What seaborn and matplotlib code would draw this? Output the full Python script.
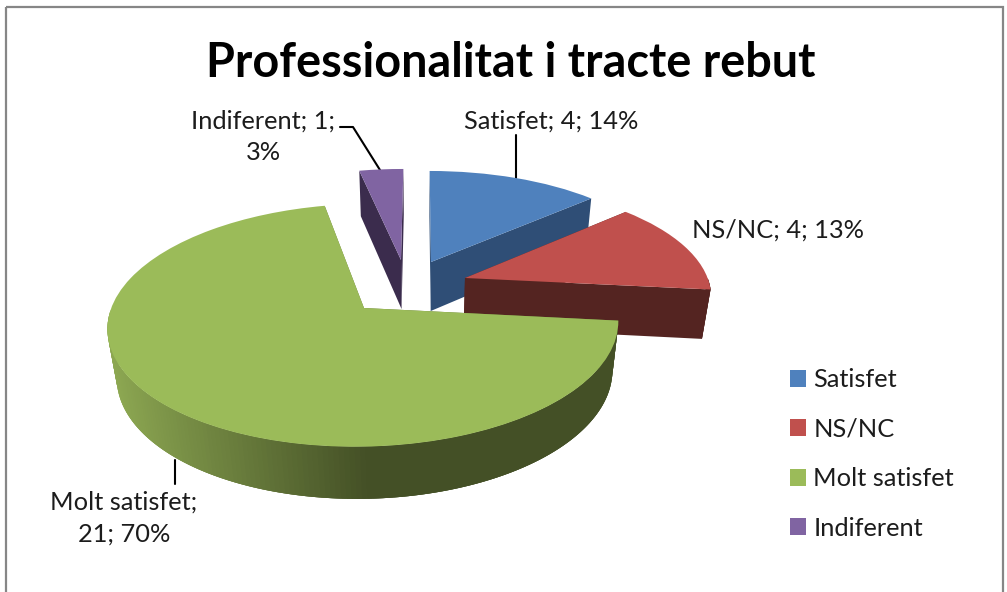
import numpy as np
import matplotlib
matplotlib.use("Agg")
import matplotlib.pyplot as plt
from matplotlib.patches import Patch, Rectangle
from matplotlib.transforms import Transform
import seaborn as sns

# ---- data ----
categories = ["Satisfet", "NS/NC", "Molt satisfet", "Indiferent"]
values = [4, 4, 21, 1]
percents = [14, 13, 70, 3]
title = "Professionalitat i tracte rebut"

# ---- styles ----
top_colors = ["#4F81BD", "#C0504D", "#9BBB59", "#8064A2"]
wall_colors = ["#2F4E76", "#542421", None, "#3B2C4D"]
green_wall = sns.blend_palette(["#8DA852", "#445026"], 256)

# ---- layout (pixels) ----
W, H_PX = 1007, 592
apex = [(431, 262), (465, 278), (364, 308), (401, 260)]
scale_x = [0.935, 0.955, 0.995, 0.95]
scale_y = [0.884, 0.92, 1.012, 0.884]
order = [3, 0, 1, 2]  # back to front
R, A, K, M, DEPTH, VX = 254, 117.6, 0.142, 0.03, 50.5, 420

sns.set_theme(style="white")
plt.rcParams["font.family"] = ["Lato", "DejaVu Sans"]

fig = plt.figure(figsize=(W / 100, H_PX / 100), dpi=100, facecolor="white")
ax = fig.add_axes([0, 0, 1, 1])


def project(x, y, z, i):
    x, y, z = np.asarray(x, float), np.asarray(y, float), np.asarray(z, float)
    d = 1 + K * y + M * z
    ax0, ay0 = apex[i]
    px = ax0 + R * scale_x[i] * x / d + (VX - ax0) * (1 - 1 / d)
    py = ay0 - A * scale_y[i] * y / d + DEPTH * z / d
    return px, py


class TopFace(Transform):
    input_dims = output_dims = 2
    is_separable = False
    has_inverse = False

    def __init__(self, i):
        super().__init__()
        self.i = i

    def transform_non_affine(self, values):
        v = np.asarray(values, float)
        px, py = project(v[:, 0], v[:, 1], 0 * v[:, 0], self.i)
        return np.column_stack([px, py])


wedges, _ = ax.pie(values, colors=top_colors, startangle=90, counterclock=False,
                   wedgeprops=dict(linewidth=0))
ax.set_aspect("auto")
ax.set_xlim(0, W)
ax.set_ylim(H_PX, 0)
ax.axis("off")

for rank, i in enumerate(order):
    w = wedges[i]
    base = 10 * (rank + 1)
    w.set_transform(TopFace(i) + ax.transData)
    w.set_clip_on(False)
    w.set_zorder(base + 5)
    t1, t2 = w.theta1, w.theta2
    # radial cut walls
    for th in (t1, t2):
        c, s = np.cos(np.radians(th)), np.sin(np.radians(th))
        xs = [0, c, c, 0]
        ys = [0, s, s, 0]
        zs = [0, 0, 1, 1]
        px, py = project(xs, ys, zs, i)
        col = wall_colors[i] if wall_colors[i] else green_wall[128]
        ax.fill(px, py, color=col, lw=0, zorder=base)
    # outer rim wall, only the part facing the viewer; strips overlap to hide seams
    ts = np.radians(np.linspace(t1, t2, 241))
    for a, b in zip(ts[:-3], ts[3:]):
        if np.sin(a) > 0.001 or np.sin(b) > 0.001:
            continue
        xs = [np.cos(a), np.cos(b), np.cos(b), np.cos(a)]
        ys = [np.sin(a), np.sin(b), np.sin(b), np.sin(a)]
        zs = [0, 0, 1, 1]
        px, py = project(xs, ys, zs, i)
        if wall_colors[i]:
            col = wall_colors[i]
        else:
            t = np.clip((np.mean(px) - 115) / (372 - 115), 0, 1)
            col = green_wall[int(t * 255)]
        ax.fill(px, py, color=col, lw=0, zorder=base + 1)

# frame
ax.add_patch(Rectangle((6, 7), 997, 640, fill=False, ec="#868686", lw=1.6, zorder=1))

# title
ax.text(511, 63, title, fontsize=33.7, fontweight="bold", color="black",
        ha="center", va="center", zorder=100)

# data labels
label_fs = 18.3
text_col = "#1c1c1c"
ax.text(551, 121, f"{categories[0]}; {values[0]}; {percents[0]}%", fontsize=label_fs,
        color=text_col, ha="center", va="center", zorder=100)
ax.text(778, 230, f"{categories[1]}; {values[1]}; {percents[1]}%", fontsize=label_fs,
        color=text_col, ha="center", va="center", zorder=100)
ax.text(124, 518, f"{categories[2]};\n{values[2]}; {percents[2]}%", fontsize=label_fs,
        color=text_col, ha="center", va="center", linespacing=1.45, zorder=100)
ax.text(263, 137, f"{categories[3]}; {values[3]};\n{percents[3]}%", fontsize=label_fs,
        color=text_col, ha="center", va="center", linespacing=1.45, zorder=100)

# leader lines
ax.plot([516, 516], [135, 178], color="black", lw=1.5, zorder=4)
ax.plot([340, 353, 380], [127, 127, 170], color="black", lw=1.5, zorder=4)
ax.plot([175, 175], [460, 484], color="black", lw=1.5, zorder=4)

# legend
handles = [Patch(facecolor=c, edgecolor="none") for c in top_colors]
ax.legend(handles, categories, loc="center left", bbox_to_anchor=(790, 454),
          bbox_transform=ax.transData, frameon=False, fontsize=label_fs,
          handlelength=0.64, handleheight=0.64, handletextpad=0.28, labelspacing=1.04,
          borderaxespad=0, borderpad=0, labelcolor=text_col)

fig.savefig("out.png", dpi=100)
